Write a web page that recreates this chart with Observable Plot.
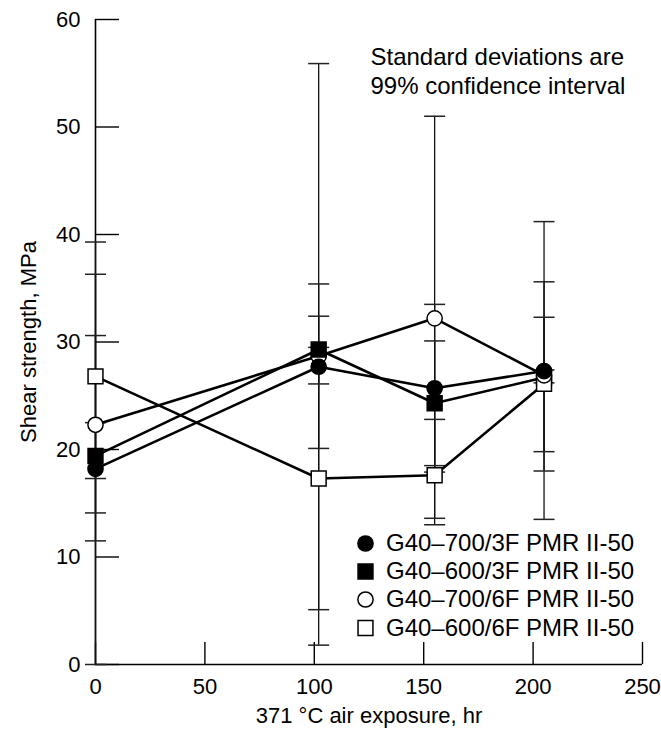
<!DOCTYPE html>
<html><head><meta charset="utf-8">
<script src="https://cdn.jsdelivr.net/npm/d3@7"></script>
<script src="https://cdn.jsdelivr.net/npm/@observablehq/plot@0.6"></script>
<style>body{margin:0;background:#fff} svg{display:block}</style>
</head><body><div id="chart"></div>
<script>
const hours = [0, 102, 155, 205];
const seriesNames = ["G40–700/3F PMR II-50", "G40–600/3F PMR II-50", "G40–700/6F PMR II-50", "G40–600/6F PMR II-50"];
const strength700_3F = [18.2, 27.7, 25.7, 27.3];
const low700_3F = [11.5, 20.1, 17.9, 13.5];
const high700_3F = [22.5, 35.4, 33.5, 41.2];
const strength600_3F = [19.4, 29.3, 24.3, 26.7];
const low600_3F = [0, 26.1, 18.5, 26.2];
const high600_3F = [39.3, 32.4, 30.1, 27.4];
const strength700_6F = [22.3, 28.7, 32.2, 26.9];
const low700_6F = [14.1, 1.8, 13.0, 18.0];
const high700_6F = [30.6, 55.9, 51.0, 35.6];
const strength600_6F = [26.8, 17.3, 17.6, 26.1];
const low600_6F = [17.3, 5.1, 13.6, 19.8];
const high600_6F = [36.3, 29.5, 22.8, 32.3];
const xTicks = [0, 50, 100, 150, 200, 250];
const yTicks = [0, 10, 20, 30, 40, 50, 60];
const note = "Standard deviations are\n99% confidence interval";
const xLabel = "371 °C air exposure, hr";
const yLabel = "Shear strength, MPa";

const values = [strength700_3F, strength600_3F, strength700_6F, strength600_6F];
const lows = [low700_3F, low600_3F, low700_6F, low600_6F];
const highs = [high700_3F, high600_3F, high700_6F, high600_6F];
const styles = [
  {symbol: "circle", fill: "black", r: 7.6},
  {symbol: "square", fill: "black", r: 8.4},
  {symbol: "circle", fill: "white", r: 7.6},
  {symbol: "square", fill: "white", r: 8.4}
];
const rows = seriesNames.flatMap((name, si) => hours.map((h, i) => ({
  series: name, si, i, hours: h, y: values[si][i], lo: lows[si][i], hi: highs[si][i]
})));
const capSymbol = {draw(ctx, size) { const r = Math.sqrt(size / Math.PI); ctx.moveTo(-r, 0); ctx.lineTo(r, 0); }};

const W = 661, H = 736, mL = 95, mR = 19, mT = 19, mB = 72;
const fw = W - mL - mR, fh = H - mT - mB;
const legendDy = [524, 552, 580, 608.5];
// marker layering: [series, filter]
const layers = [
  [1, d => d.i === 3],
  [3, () => true],
  [2, () => true],
  [1, d => d.i !== 3],
  [0, () => true]
];

const marks = [
  Plot.axisX({ticks: xTicks, tickSize: 0, tickPadding: 14, fontSize: 22, label: null}),
  Plot.axisY({ticks: yTicks, tickSize: 0, tickPadding: 15, fontSize: 22, label: null}),
  Plot.tickX(xTicks, {x: d => d, insetTop: fh - 22, stroke: "black", strokeWidth: 1.4}),
  Plot.tickY(yTicks, {y: d => d, insetRight: fw - 24, stroke: "black", strokeWidth: 1.4}),
  Plot.ruleX([0], {stroke: "black", strokeWidth: 1.6}),
  Plot.ruleY([0], {stroke: "black", strokeWidth: 1.6}),
  Plot.ruleX(rows, {x: "hours", y1: "lo", y2: "hi", stroke: "#111", strokeWidth: 1.3}),
  Plot.dot(rows, {x: "hours", y: "lo", symbol: capSymbol, r: 10.5, stroke: "#222", strokeWidth: 1.5, fill: "none"}),
  Plot.dot(rows, {x: "hours", y: "hi", symbol: capSymbol, r: 10.5, stroke: "#222", strokeWidth: 1.5, fill: "none"}),
  Plot.line(rows, {x: "hours", y: "y", z: "series", stroke: "black", strokeWidth: 2.6})
];
for (const [si, f] of layers) {
  const st = styles[si];
  marks.push(Plot.dot(rows.filter(d => d.si === si && f(d)), {x: "hours", y: "y", symbol: st.symbol, r: st.r, fill: st.fill, stroke: "black", strokeWidth: 1.5}));
}
seriesNames.forEach((name, si) => {
  const st = styles[si];
  marks.push(Plot.dot([name], {frameAnchor: "top-left", dx: 270, dy: legendDy[si], symbol: st.symbol, r: st.r, fill: st.fill, stroke: "black", strokeWidth: 1.5}));
  marks.push(Plot.text([name], {frameAnchor: "top-left", dx: 290.5, dy: legendDy[si], text: d => d, textAnchor: "start", lineAnchor: "middle", fontSize: 24, fill: "black"}));
});
marks.push(Plot.text([note], {frameAnchor: "top-left", dx: 275, dy: 51, text: d => d, textAnchor: "start", lineAnchor: "middle", lineHeight: 1.17, fontSize: 24, fill: "black"}));
marks.push(Plot.text([xLabel], {frameAnchor: "bottom", dy: 51, text: d => d, textAnchor: "middle", lineAnchor: "middle", fontSize: 22, fill: "black"}));
marks.push(Plot.text([yLabel], {frameAnchor: "left", dx: -67, rotate: -90, text: d => d, textAnchor: "middle", lineAnchor: "middle", fontSize: 22, fill: "black"}));

const chart = Plot.plot({
  width: W, height: H, marginLeft: mL, marginRight: mR, marginTop: mT, marginBottom: mB,
  x: {domain: [0, 250], label: null},
  y: {domain: [0, 60], label: null},
  style: {fontFamily: "'Liberation Sans', Arial, sans-serif", fontSize: "22px", background: "white", color: "black", overflow: "visible"},
  marks
});
document.getElementById("chart").appendChild(chart);
</script>
</body></html>
